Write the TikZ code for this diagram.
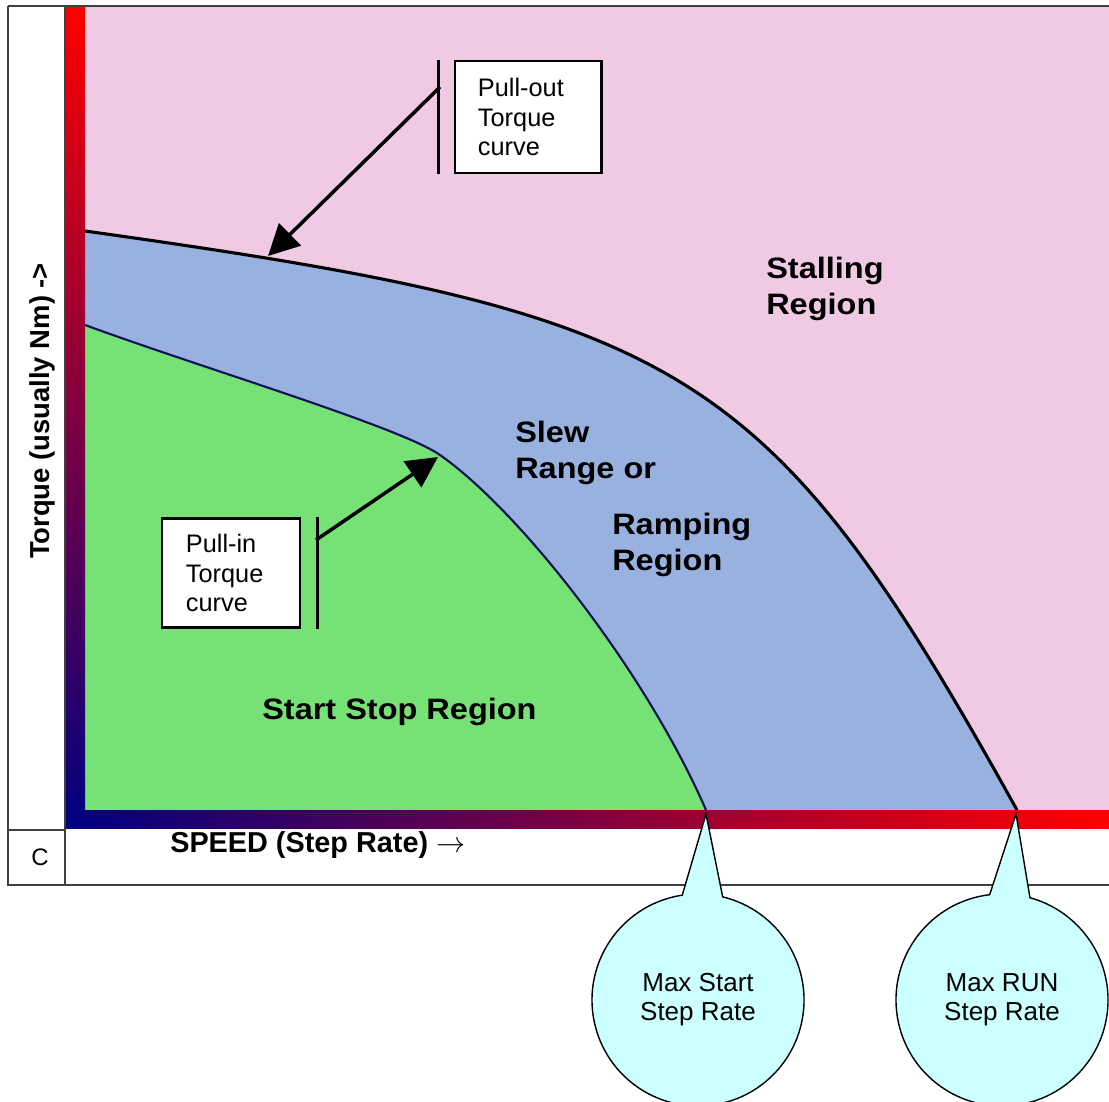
\documentclass[tikz,border=0pt]{standalone}
\usepackage{fontspec}
\setmainfont{Liberation Sans}
\newfontfamily\regionfont[FakeStretch=1.1]{Liberation Sans}
\usetikzlibrary{arrows.meta,positioning,shapes.callouts}
\definecolor{stallpink}{RGB}{240,202,228}
\definecolor{slewblue}{RGB}{152,177,222}
\definecolor{startgreen}{RGB}{118,226,118}
\definecolor{axisnavy}{RGB}{0,0,128}
\definecolor{axismid}{RGB}{165,0,95}
\definecolor{balloonfill}{RGB}{204,255,255}
\definecolor{pullinline}{RGB}{15,15,90}
\begin{document}
\begin{tikzpicture}[x=0.025cm,y=-0.025cm]
    \tikzset {
        region label/.style = {font=\regionfont\fontsize{21}{25.6}\selectfont\bfseries, align=left, anchor=west, inner sep=0pt},
        torque box/.style = {draw, line width=2.1pt, fill=white, inner sep=0pt, align=left, font=\fontsize{18}{21}\selectfont},
        rate balloon/.style = {ellipse callout, draw, line width=1pt, fill=balloonfill, minimum width=5.3cm, minimum height=5.3cm, callout pointer arc=22, align=center, font=\fontsize{18.5}{20.6}\selectfont},
        pointer/.style = {line width=2.5pt, -{Triangle[length=22pt,width=22pt]}},
        accent bar/.style = {line width=2.1pt},
        grid line/.style = {draw=black!75, line width=0.9pt}
    }
    \useasboundingbox (0,0) rectangle (1109,1102);
    \clip (0,0) rectangle (1109,1102);
    \fill[white] (0,0) rectangle (1109,1102);
    \fill[stallpink] (85,6) rectangle (1109,810);
    \fill[slewblue] (85,231) .. controls (685,315) and (767,360) .. (1017,810) -- (85,810) -- cycle;
    \fill[startgreen] (85,325) .. controls (205,369) and (400,427) .. (440,455) .. controls (520,511) and (646,672) .. (706,810) -- (85,810) -- cycle;
    \draw[line width=2.2pt] (85,231) .. controls (685,315) and (767,360) .. (1017,810);
    \draw[pullinline, line width=1.5pt] (85,325) .. controls (205,369) and (400,427) .. (440,455) .. controls (520,511) and (646,672) .. (706,810);
    \shade[top color=red, middle color=axismid, bottom color=axisnavy] (66,6) rectangle (85,828);
    \shade[left color=axisnavy, middle color=axismid, right color=red] (66,810) rectangle (1109,828);
    \draw[grid line] (8,6) -- (1109,6);
    \draw[grid line] (8,6) -- (8,885) -- (1109,885);
    \draw[grid line] (65,6) -- (65,885);
    \draw[grid line] (8,830) -- (65,830);
    \node[rotate=90, font=\fontsize{19.5}{24}\selectfont\bfseries] (torquelabel) at (42,411) {Torque (usually Nm) ->};
    \node[anchor=west, inner sep=0pt, font=\fontsize{20.5}{24}\selectfont\bfseries] (speedlabel) at (170,845) {SPEED (Step Rate) {\mdseries$\rightarrow$}};
    \node[font=\fontsize{17}{20}\selectfont] (corner) at (40,857) {C};
    \node[region label] (stalling) at (766,289) {Stalling\\Region};
    \node[region label] (slew) at (515,453) {Slew\\Range or};
    \node[region label] (ramping) at (612,545) {Ramping\\Region};
    \node[region label] (startstop) at (262,712) {Start Stop Region};
    \node[torque box, text width=2.5cm, minimum width=3.65cm, minimum height=2.8cm] (pullout) at (528,117) {Pull-out\\Torque\\curve};
    \draw[accent bar] ([xshift=-0.375cm]pullout.north west) -- ([xshift=-0.375cm]pullout.south west);
    \coordinate (outfoot) at (440,87);
    \coordinate (outtip) at (268,256);
    \draw[pointer] (outfoot) -- (outtip);
    \node[torque box, text width=2.25cm, minimum width=3.45cm, minimum height=2.725cm] (pullin) at (231,573) {Pull-in\\Torque\\curve};
    \draw[accent bar] ([xshift=0.4cm]pullin.north east) -- ([xshift=0.4cm]pullin.south east);
    \coordinate (infoot) at (316,540);
    \coordinate (intip) at (438,457);
    \draw[pointer] (infoot) -- (intip);
    \coordinate (startrate) at (706,814);
    \coordinate (runrate) at (1016,814);
    \node[rate balloon, callout absolute pointer={(startrate)}] (startballoon) at (698,1000) {Max Start\\Step Rate};
    \node[rate balloon, callout absolute pointer={(runrate)}] (runballoon) at (1002,1000) {Max RUN\\Step Rate};
\end{tikzpicture}
\end{document}
